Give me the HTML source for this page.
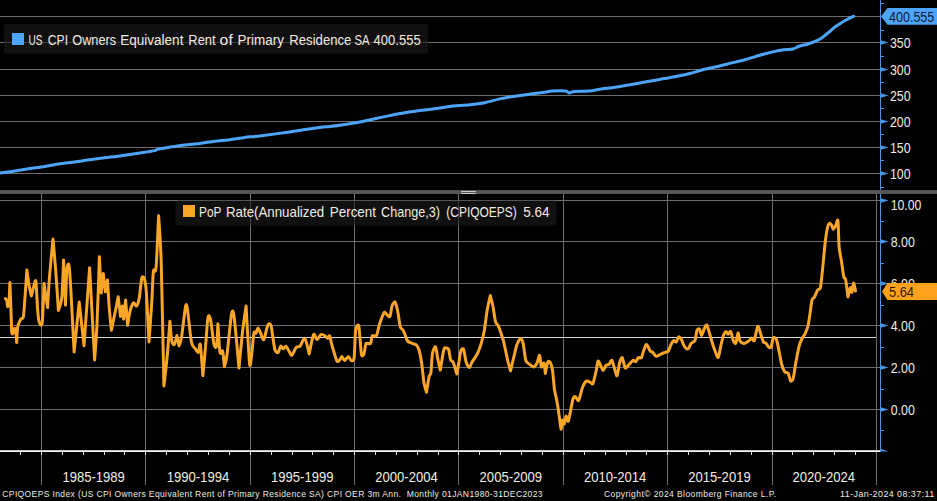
<!DOCTYPE html><html><head><meta charset="utf-8"><style>html,body{margin:0;padding:0;background:#000;width:937px;height:501px;overflow:hidden}svg{display:block}text{font-family:"Liberation Sans",sans-serif}</style></head><body>
<svg width="937" height="501" viewBox="0 0 937 501">
<rect width="937" height="501" fill="#000"/>
<line x1="0" y1="16.5" x2="880" y2="16.5" stroke="#6e6e6e" stroke-width="1"/>
<line x1="0" y1="42.5" x2="880" y2="42.5" stroke="#6e6e6e" stroke-width="1"/>
<line x1="0" y1="69.5" x2="880" y2="69.5" stroke="#6e6e6e" stroke-width="1"/>
<line x1="0" y1="95.5" x2="880" y2="95.5" stroke="#6e6e6e" stroke-width="1"/>
<line x1="0" y1="121.5" x2="880" y2="121.5" stroke="#6e6e6e" stroke-width="1"/>
<line x1="0" y1="147.5" x2="880" y2="147.5" stroke="#6e6e6e" stroke-width="1"/>
<line x1="0" y1="173.5" x2="880" y2="173.5" stroke="#6e6e6e" stroke-width="1"/>
<line x1="0" y1="200.5" x2="880" y2="200.5" stroke="#6e6e6e" stroke-width="1"/>
<line x1="0" y1="241.5" x2="880" y2="241.5" stroke="#6e6e6e" stroke-width="1"/>
<line x1="0" y1="283.5" x2="880" y2="283.5" stroke="#6e6e6e" stroke-width="1"/>
<line x1="0" y1="325.5" x2="880" y2="325.5" stroke="#6e6e6e" stroke-width="1"/>
<line x1="0" y1="367.5" x2="880" y2="367.5" stroke="#6e6e6e" stroke-width="1"/>
<line x1="0" y1="409.5" x2="880" y2="409.5" stroke="#6e6e6e" stroke-width="1"/>
<line x1="41.5" y1="194" x2="41.5" y2="485" stroke="#6e6e6e" stroke-width="1"/>
<line x1="145.5" y1="194" x2="145.5" y2="485" stroke="#6e6e6e" stroke-width="1"/>
<line x1="250.5" y1="194" x2="250.5" y2="485" stroke="#6e6e6e" stroke-width="1"/>
<line x1="354.5" y1="194" x2="354.5" y2="485" stroke="#6e6e6e" stroke-width="1"/>
<line x1="458.5" y1="194" x2="458.5" y2="485" stroke="#6e6e6e" stroke-width="1"/>
<line x1="563.5" y1="194" x2="563.5" y2="485" stroke="#6e6e6e" stroke-width="1"/>
<line x1="667.5" y1="194" x2="667.5" y2="485" stroke="#6e6e6e" stroke-width="1"/>
<line x1="772.5" y1="194" x2="772.5" y2="485" stroke="#6e6e6e" stroke-width="1"/>
<line x1="876.5" y1="194" x2="876.5" y2="485" stroke="#6e6e6e" stroke-width="1"/>
<line x1="0" y1="337.5" x2="876" y2="337.5" stroke="#d8d8d8" stroke-width="1"/>
<rect x="0" y="450" width="881" height="1" fill="#c4c4c4"/><rect x="0" y="451" width="881" height="1" fill="#f4f4f4"/>
<rect x="20" y="452" width="1" height="3" fill="#ececec"/>
<rect x="41" y="452" width="1" height="3" fill="#ececec"/>
<rect x="62" y="452" width="1" height="3" fill="#ececec"/>
<rect x="83" y="452" width="1" height="3" fill="#ececec"/>
<rect x="104" y="452" width="1" height="3" fill="#ececec"/>
<rect x="124" y="452" width="1" height="3" fill="#ececec"/>
<rect x="145" y="452" width="1" height="3" fill="#ececec"/>
<rect x="166" y="452" width="1" height="3" fill="#ececec"/>
<rect x="187" y="452" width="1" height="3" fill="#ececec"/>
<rect x="208" y="452" width="1" height="3" fill="#ececec"/>
<rect x="229" y="452" width="1" height="3" fill="#ececec"/>
<rect x="250" y="452" width="1" height="3" fill="#ececec"/>
<rect x="271" y="452" width="1" height="3" fill="#ececec"/>
<rect x="292" y="452" width="1" height="3" fill="#ececec"/>
<rect x="312" y="452" width="1" height="3" fill="#ececec"/>
<rect x="333" y="452" width="1" height="3" fill="#ececec"/>
<rect x="354" y="452" width="1" height="3" fill="#ececec"/>
<rect x="375" y="452" width="1" height="3" fill="#ececec"/>
<rect x="396" y="452" width="1" height="3" fill="#ececec"/>
<rect x="417" y="452" width="1" height="3" fill="#ececec"/>
<rect x="438" y="452" width="1" height="3" fill="#ececec"/>
<rect x="458" y="452" width="1" height="3" fill="#ececec"/>
<rect x="479" y="452" width="1" height="3" fill="#ececec"/>
<rect x="500" y="452" width="1" height="3" fill="#ececec"/>
<rect x="521" y="452" width="1" height="3" fill="#ececec"/>
<rect x="542" y="452" width="1" height="3" fill="#ececec"/>
<rect x="563" y="452" width="1" height="3" fill="#ececec"/>
<rect x="584" y="452" width="1" height="3" fill="#ececec"/>
<rect x="605" y="452" width="1" height="3" fill="#ececec"/>
<rect x="626" y="452" width="1" height="3" fill="#ececec"/>
<rect x="646" y="452" width="1" height="3" fill="#ececec"/>
<rect x="667" y="452" width="1" height="3" fill="#ececec"/>
<rect x="688" y="452" width="1" height="3" fill="#ececec"/>
<rect x="709" y="452" width="1" height="3" fill="#ececec"/>
<rect x="730" y="452" width="1" height="3" fill="#ececec"/>
<rect x="751" y="452" width="1" height="3" fill="#ececec"/>
<rect x="772" y="452" width="1" height="3" fill="#ececec"/>
<rect x="792" y="452" width="1" height="3" fill="#ececec"/>
<rect x="813" y="452" width="1" height="3" fill="#ececec"/>
<rect x="834" y="452" width="1" height="3" fill="#ececec"/>
<rect x="855" y="452" width="1" height="3" fill="#ececec"/>
<rect x="4" y="24" width="424" height="29.5" rx="2" fill="#1a1a1a" fill-opacity="0.6"/>
<rect x="12" y="33" width="12" height="12" fill="#4da5fb"/>
<text transform="translate(28.5,44.8) scale(0.8,1)" x="0" y="0" font-size="14.7" fill="#f0ebe0" textLength="17.50" lengthAdjust="spacingAndGlyphs" xml:space="preserve">US</text>
<text transform="translate(47.699999999999996,44.8) scale(0.8,1)" x="0" y="0" font-size="14.7" fill="#f0ebe0" textLength="25.50" lengthAdjust="spacingAndGlyphs" xml:space="preserve">CPI</text>
<text transform="translate(72.3,44.8) scale(0.8,1)" x="0" y="0" font-size="14.7" fill="#f0ebe0" textLength="54.75" lengthAdjust="spacingAndGlyphs" xml:space="preserve">Owners</text>
<text transform="translate(120.3,44.8) scale(0.8,1)" x="0" y="0" font-size="14.7" fill="#f0ebe0" textLength="78.88" lengthAdjust="spacingAndGlyphs" xml:space="preserve">Equivalent</text>
<text transform="translate(188.3,44.8) scale(0.8,1)" x="0" y="0" font-size="14.7" fill="#f0ebe0" textLength="34.12" lengthAdjust="spacingAndGlyphs" xml:space="preserve">Rent</text>
<text transform="translate(219.60000000000002,44.8) scale(0.8,1)" x="0" y="0" font-size="14.7" fill="#f0ebe0" textLength="16.50" lengthAdjust="spacingAndGlyphs" xml:space="preserve">of</text>
<text transform="translate(237.60000000000002,44.8) scale(0.8,1)" x="0" y="0" font-size="14.7" fill="#f0ebe0" textLength="58.13" lengthAdjust="spacingAndGlyphs" xml:space="preserve">Primary</text>
<text transform="translate(289.3,44.8) scale(0.8,1)" x="0" y="0" font-size="14.7" fill="#f0ebe0" textLength="77.62" lengthAdjust="spacingAndGlyphs" xml:space="preserve">Residence</text>
<text transform="translate(354.40000000000003,44.8) scale(0.8,1)" x="0" y="0" font-size="14.7" fill="#f0ebe0" textLength="18.87" lengthAdjust="spacingAndGlyphs" xml:space="preserve">SA</text>
<text transform="translate(373.6,44.8) scale(0.8,1)" x="0" y="0" font-size="14.7" fill="#f0ebe0" textLength="58.87" lengthAdjust="spacingAndGlyphs" xml:space="preserve">400.555</text>
<path d="M0.00 173.10 C1.88 172.82 11.26 171.46 15.00 170.90 C18.74 170.34 26.17 169.16 29.90 168.60 C33.62 168.04 41.06 167.01 44.80 166.40 C48.54 165.79 56.06 164.26 59.80 163.70 C63.54 163.14 70.96 162.40 74.70 161.90 C78.44 161.40 85.96 160.22 89.70 159.70 C93.44 159.17 100.86 158.17 104.60 157.70 C108.34 157.22 115.17 156.49 119.60 155.90 C124.02 155.31 135.59 153.66 140.00 153.00 C144.41 152.34 152.66 151.09 154.90 150.60 C157.14 150.11 156.03 149.54 157.90 149.10 C159.78 148.66 166.54 147.62 169.90 147.10 C173.26 146.57 181.06 145.36 184.80 144.90 C188.54 144.44 196.06 143.86 199.80 143.40 C203.54 142.94 210.95 141.65 214.70 141.20 C218.45 140.75 226.06 140.28 229.80 139.80 C233.54 139.33 240.86 137.88 244.60 137.40 C248.34 136.93 254.06 136.69 259.70 136.00 C265.34 135.31 282.21 132.97 289.70 131.90 C297.19 130.83 314.56 128.09 319.60 127.40 C324.64 126.71 326.84 126.78 330.00 126.40 C333.16 126.03 341.16 124.95 344.90 124.40 C348.64 123.85 356.16 122.71 359.90 122.00 C363.64 121.29 371.06 119.50 374.80 118.70 C378.54 117.90 386.06 116.34 389.80 115.60 C393.54 114.86 400.96 113.42 404.70 112.80 C408.44 112.17 415.96 111.11 419.70 110.60 C423.44 110.09 430.86 109.21 434.60 108.70 C438.34 108.19 445.18 106.99 449.60 106.50 C454.03 106.01 465.59 105.27 470.00 104.80 C474.41 104.33 481.16 103.44 484.90 102.70 C488.64 101.96 496.16 99.71 499.90 98.90 C503.64 98.09 511.06 96.80 514.80 96.20 C518.54 95.60 526.06 94.60 529.80 94.10 C533.54 93.60 541.90 92.58 544.70 92.20 C547.50 91.83 549.58 91.24 552.20 91.10 C554.83 90.96 563.55 90.88 565.70 91.10 C567.85 91.32 568.29 92.86 569.40 92.90 C570.51 92.94 572.08 91.62 574.60 91.40 C577.12 91.18 586.43 91.38 589.60 91.10 C592.77 90.82 596.84 89.69 600.00 89.20 C603.16 88.71 611.16 87.76 614.90 87.20 C618.64 86.64 626.16 85.34 629.90 84.70 C633.64 84.06 641.06 82.76 644.80 82.10 C648.54 81.44 656.06 80.08 659.80 79.40 C663.54 78.73 670.96 77.44 674.70 76.70 C678.44 75.96 685.96 74.42 689.70 73.50 C693.44 72.58 700.86 70.24 704.60 69.30 C708.34 68.36 716.43 66.74 719.60 66.00 C722.77 65.26 726.84 64.19 730.00 63.40 C733.16 62.61 741.16 60.73 744.90 59.70 C748.64 58.68 756.16 56.24 759.90 55.20 C763.64 54.16 772.00 52.06 774.80 51.40 C777.60 50.74 780.05 50.20 782.30 49.90 C784.55 49.60 790.71 49.45 792.80 49.00 C794.89 48.55 797.10 46.92 799.00 46.30 C800.90 45.67 805.99 44.61 808.00 44.00 C810.01 43.39 813.43 42.12 815.10 41.40 C816.77 40.67 820.05 39.05 821.40 38.20 C822.75 37.35 824.77 35.50 825.90 34.60 C827.02 33.70 829.27 31.95 830.40 31.00 C831.52 30.05 833.66 27.95 834.90 27.00 C836.14 26.05 838.95 24.24 840.30 23.40 C841.65 22.56 844.03 21.20 845.70 20.30 C847.38 19.40 852.70 16.71 853.70 16.20" fill="none" stroke="#4da5fb" stroke-width="3" stroke-linejoin="round" stroke-linecap="round"/>
<path d="M5.40 298.60 C5.58 298.83 6.54 299.39 6.80 300.40 C7.06 301.41 7.22 306.59 7.50 306.70 C7.78 306.81 8.70 304.32 9.00 301.30 C9.30 298.28 9.90 282.50 9.90 282.50 C9.90 282.50 10.88 307.72 11.10 313.90 C11.32 320.07 11.47 329.44 11.70 331.90 C11.92 334.36 12.56 334.05 12.90 333.60 C13.24 333.15 14.04 328.62 14.40 328.30 C14.76 327.98 15.51 329.21 15.80 331.00 C16.09 332.79 16.70 342.60 16.70 342.60 C16.70 342.60 17.21 330.09 17.60 327.40 C17.99 324.71 19.30 322.23 19.80 321.10 C20.30 319.98 21.15 318.96 21.60 318.40 C22.05 317.84 22.96 319.41 23.40 316.60 C23.84 313.79 24.66 301.74 25.10 295.90 C25.54 290.06 26.90 269.90 26.90 269.90 C26.90 269.90 28.14 280.15 28.70 283.40 C29.26 286.65 31.40 295.90 31.40 295.90 C31.40 295.90 33.54 286.89 34.10 285.10 C34.66 283.31 35.45 278.45 35.90 281.60 C36.35 284.75 37.29 305.25 37.70 310.30 C38.11 315.35 38.64 320.43 39.20 322.00 C39.76 323.57 41.60 327.72 42.20 322.90 C42.80 318.07 44.00 283.40 44.00 283.40 C44.00 283.40 45.35 292.88 45.80 295.90 C46.25 298.92 47.60 307.60 47.60 307.60 C47.60 307.60 48.73 286.56 49.40 278.00 C50.07 269.44 53.00 239.10 53.00 239.10 C53.00 239.10 55.12 262.68 55.80 271.60 C56.47 280.53 58.40 310.50 58.40 310.50 C58.40 310.50 61.15 303.82 61.80 297.50 C62.45 291.18 63.60 259.90 63.60 259.90 C63.60 259.90 65.50 305.30 65.50 305.30 C65.50 305.30 66.49 273.38 67.00 269.00 C67.51 264.62 68.71 259.93 69.60 270.30 C70.49 280.68 74.10 352.00 74.10 352.00 C74.10 352.00 79.20 302.00 79.20 302.00 C79.20 302.00 84.00 345.70 84.00 345.70 C84.00 345.70 89.60 267.70 89.60 267.70 C89.60 267.70 94.60 360.00 94.60 360.00 C94.60 360.00 96.40 337.20 97.00 324.30 C97.60 311.40 99.40 256.80 99.40 256.80 C99.40 256.80 101.20 293.00 101.20 293.00 C101.20 293.00 103.30 273.60 103.30 273.60 C103.30 273.60 105.40 291.80 105.40 291.80 C105.40 291.80 107.50 280.00 107.50 280.00 C107.50 280.00 108.81 302.41 109.30 308.70 C109.79 314.99 111.40 330.30 111.40 330.30 C111.40 330.30 114.45 315.49 115.30 311.30 C116.15 307.11 118.20 296.80 118.20 296.80 C118.20 296.80 120.50 316.50 120.50 316.50 C120.50 316.50 122.40 306.00 122.40 306.00 C122.40 306.00 123.60 319.00 123.60 319.00 C123.60 319.00 125.60 300.00 125.60 300.00 C125.60 300.00 127.60 325.30 127.60 325.30 C127.60 325.30 129.28 314.09 130.00 311.30 C130.72 308.51 132.58 303.66 133.40 303.00 C134.22 302.34 135.88 306.59 136.60 306.00 C137.32 305.41 138.55 301.80 139.20 298.30 C139.85 294.80 141.15 280.44 141.80 278.00 C142.45 275.56 143.83 276.93 144.40 278.80 C144.97 280.68 145.83 285.10 146.40 293.00 C146.97 300.90 149.00 342.00 149.00 342.00 C149.00 342.00 151.15 311.88 151.70 303.00 C152.25 294.12 152.86 275.32 153.40 271.00 C153.94 266.68 155.35 275.31 156.00 268.40 C156.65 261.49 158.60 215.70 158.60 215.70 C158.60 215.70 160.54 240.71 161.20 262.00 C161.86 283.29 163.90 386.00 163.90 386.00 C163.90 386.00 166.55 363.10 167.30 355.00 C168.05 346.90 169.90 321.20 169.90 321.20 C169.90 321.20 171.15 337.69 171.70 340.60 C172.25 343.51 173.65 345.14 174.30 344.50 C174.95 343.86 176.90 335.50 176.90 335.50 C176.90 335.50 179.00 345.80 179.00 345.80 C179.00 345.80 180.79 341.66 181.60 336.80 C182.41 331.94 184.79 310.47 185.50 306.90 C186.21 303.32 186.56 303.81 187.30 308.20 C188.04 312.59 190.43 336.98 191.40 342.00 C192.38 347.02 194.22 347.11 195.10 348.40 C195.97 349.69 197.75 352.79 198.40 352.30 C199.05 351.81 199.74 341.57 200.30 344.50 C200.86 347.43 202.90 375.70 202.90 375.70 C202.90 375.70 204.86 354.40 205.50 347.10 C206.14 339.80 207.36 320.70 208.00 317.30 C208.64 313.90 209.85 316.50 210.60 319.90 C211.35 323.30 213.25 341.26 214.00 344.50 C214.75 347.74 216.11 348.39 216.60 345.80 C217.09 343.21 217.90 323.80 217.90 323.80 C217.90 323.80 219.41 348.90 220.00 352.30 C220.59 355.70 222.05 349.21 222.60 351.00 C223.15 352.79 224.40 366.60 224.40 366.60 C224.40 366.60 226.12 361.49 227.00 355.00 C227.88 348.51 230.53 319.57 231.40 314.70 C232.28 309.82 233.05 309.34 234.00 316.00 C234.95 322.66 239.00 368.00 239.00 368.00 C239.00 368.00 241.61 339.75 242.50 332.00 C243.39 324.25 246.10 306.00 246.10 306.00 C246.10 306.00 248.85 356.50 249.50 363.00 C250.15 369.50 250.75 361.73 251.30 358.00 C251.85 354.27 253.31 336.30 253.90 333.20 C254.49 330.10 255.49 333.85 256.00 333.20 C256.51 332.55 257.43 328.00 258.00 328.00 C258.57 328.00 259.88 331.74 260.60 333.20 C261.33 334.66 262.91 340.66 263.80 339.70 C264.69 338.74 266.80 327.27 267.70 325.50 C268.60 323.73 270.12 322.59 271.00 325.50 C271.88 328.41 273.82 345.40 274.70 348.80 C275.57 352.20 277.26 353.02 278.00 352.70 C278.74 352.38 279.95 346.69 280.60 346.20 C281.25 345.71 282.55 348.80 283.20 348.80 C283.85 348.80 285.05 345.88 285.80 346.20 C286.55 346.52 288.45 350.26 289.20 351.40 C289.95 352.54 290.93 355.79 291.80 355.30 C292.68 354.81 295.16 348.64 296.20 347.50 C297.24 346.36 299.03 347.34 300.10 346.20 C301.18 345.06 303.66 337.42 304.80 338.40 C305.94 339.38 309.20 354.00 309.20 354.00 C309.20 354.00 312.62 336.29 313.60 334.50 C314.58 332.71 316.09 339.70 317.00 339.70 C317.91 339.70 319.92 334.99 320.90 334.50 C321.88 334.01 323.96 335.31 324.80 335.80 C325.64 336.29 326.99 338.40 327.60 338.40 C328.21 338.40 329.21 335.15 329.70 335.80 C330.19 336.45 330.62 340.51 331.50 343.60 C332.38 346.69 335.72 358.39 336.70 360.50 C337.68 362.61 338.65 360.99 339.30 360.50 C339.95 360.01 341.25 356.60 341.90 356.60 C342.55 356.60 343.69 360.50 344.50 360.50 C345.31 360.50 347.59 356.60 348.40 356.60 C349.21 356.60 350.29 360.32 351.00 360.50 C351.71 360.68 353.53 361.74 354.10 358.00 C354.68 354.26 355.01 334.58 355.60 330.60 C356.19 326.62 358.08 323.27 358.80 326.20 C359.52 329.12 360.75 350.52 361.40 354.00 C362.05 357.48 363.43 355.30 364.00 354.00 C364.57 352.70 365.19 344.90 366.00 343.60 C366.81 342.30 369.71 344.58 370.50 343.60 C371.29 342.62 371.56 336.78 372.30 335.80 C373.04 334.82 375.50 337.25 376.40 335.80 C377.30 334.35 378.52 327.11 379.50 324.20 C380.48 321.29 383.22 313.64 384.20 312.50 C385.18 311.36 386.57 314.61 387.30 315.10 C388.03 315.59 389.41 317.54 390.00 316.40 C390.59 315.26 391.36 307.80 392.00 306.00 C392.64 304.20 394.39 301.35 395.10 302.00 C395.81 302.65 397.05 308.10 397.70 311.20 C398.35 314.30 399.59 324.38 400.30 326.80 C401.01 329.23 402.49 328.83 403.40 330.60 C404.31 332.38 406.43 339.38 407.60 341.00 C408.78 342.62 411.70 343.10 412.80 343.60 C413.90 344.10 415.62 344.20 416.40 345.00 C417.17 345.80 418.35 347.75 419.00 350.00 C419.65 352.25 420.98 358.88 421.60 363.00 C422.23 367.12 423.39 379.35 424.00 383.00 C424.61 386.65 426.50 392.20 426.50 392.20 C426.50 392.20 428.55 379.04 429.10 376.60 C429.65 374.16 430.47 375.62 430.90 372.70 C431.32 369.77 431.91 356.44 432.50 353.20 C433.09 349.96 434.95 346.15 435.60 346.80 C436.25 347.45 437.11 355.49 437.70 358.40 C438.29 361.31 440.30 370.10 440.30 370.10 C440.30 370.10 443.19 352.16 443.90 349.40 C444.61 346.64 445.41 348.00 446.00 348.00 C446.59 348.00 448.03 347.94 448.60 349.40 C449.18 350.86 450.03 358.09 450.60 359.70 C451.18 361.31 452.41 360.51 453.20 362.30 C453.99 364.09 456.90 374.00 456.90 374.00 C456.90 374.00 458.39 365.23 458.90 362.30 C459.41 359.38 460.41 352.21 461.00 350.60 C461.59 348.99 462.95 347.94 463.60 349.40 C464.25 350.86 465.48 360.04 466.20 362.30 C466.92 364.56 468.69 367.50 469.40 367.50 C470.11 367.50 471.26 363.44 471.90 362.30 C472.54 361.16 473.77 359.54 474.50 358.40 C475.23 357.26 476.89 354.97 477.70 353.20 C478.51 351.43 480.16 347.10 481.00 344.20 C481.84 341.30 483.65 334.12 484.40 330.00 C485.15 325.88 486.26 315.50 487.00 311.20 C487.74 306.90 490.30 295.60 490.30 295.60 C490.30 295.60 492.25 302.75 492.90 306.00 C493.55 309.25 494.85 319.16 495.50 321.60 C496.15 324.04 497.46 324.20 498.10 325.50 C498.74 326.80 499.89 329.90 500.60 332.00 C501.31 334.10 502.91 338.74 503.80 342.30 C504.69 345.86 506.86 356.93 507.70 360.50 C508.54 364.07 510.50 370.90 510.50 370.90 C510.50 370.90 512.81 361.24 513.60 358.00 C514.39 354.76 515.92 347.45 516.80 345.00 C517.67 342.55 519.80 338.57 520.60 338.40 C521.40 338.22 522.55 340.84 523.20 343.60 C523.85 346.36 524.99 357.90 525.80 360.50 C526.61 363.10 528.73 363.59 529.70 364.40 C530.68 365.21 532.69 367.18 533.60 367.00 C534.51 366.82 536.25 364.46 537.00 363.00 C537.75 361.54 539.05 354.80 539.60 355.30 C540.15 355.80 540.85 366.04 541.40 367.00 C541.95 367.96 543.51 362.19 544.00 363.00 C544.49 363.81 545.30 373.50 545.30 373.50 C545.30 373.50 547.25 363.11 547.90 361.80 C548.55 360.49 549.91 361.86 550.50 363.00 C551.09 364.14 552.11 367.65 552.60 370.90 C553.09 374.15 553.91 385.46 554.40 389.00 C554.89 392.54 556.01 396.62 556.50 399.20 C556.99 401.77 557.88 406.84 558.30 409.60 C558.72 412.36 559.54 418.86 559.90 421.30 C560.26 423.74 560.88 429.26 561.20 429.10 C561.53 428.94 562.11 420.65 562.50 420.00 C562.89 419.35 563.85 424.39 564.30 423.90 C564.75 423.41 565.61 416.43 566.10 416.10 C566.59 415.78 567.68 421.79 568.20 421.30 C568.73 420.81 569.71 414.96 570.30 412.20 C570.89 409.44 572.25 401.15 572.90 399.20 C573.55 397.25 574.79 396.44 575.50 396.60 C576.21 396.76 577.73 401.64 578.60 400.50 C579.48 399.36 581.52 389.94 582.50 387.50 C583.48 385.06 585.42 381.65 586.40 381.00 C587.38 380.35 589.49 381.98 590.30 382.30 C591.11 382.62 592.16 385.06 592.90 383.60 C593.64 382.14 595.55 373.43 596.20 370.60 C596.85 367.78 597.55 361.64 598.10 361.00 C598.65 360.36 599.96 364.30 600.60 365.50 C601.24 366.70 602.55 370.60 603.20 370.60 C603.85 370.60 605.05 366.30 605.80 365.50 C606.55 364.70 608.45 364.85 609.20 364.20 C609.95 363.55 611.15 359.82 611.80 360.30 C612.45 360.78 613.75 366.06 614.40 368.00 C615.05 369.94 616.35 376.44 617.00 375.80 C617.65 375.16 618.95 365.16 619.60 362.90 C620.25 360.64 621.49 357.06 622.20 357.70 C622.91 358.34 624.42 367.19 625.30 368.00 C626.17 368.81 628.23 365.16 629.20 364.20 C630.18 363.24 632.29 360.62 633.10 360.30 C633.91 359.98 635.05 361.93 635.70 361.60 C636.35 361.28 637.59 358.19 638.30 357.70 C639.01 357.21 640.75 358.51 641.40 357.70 C642.05 356.89 642.91 352.82 643.50 351.20 C644.09 349.57 645.59 345.38 646.10 344.70 C646.61 344.02 647.09 345.01 647.60 345.80 C648.11 346.59 649.55 350.19 650.20 351.00 C650.85 351.81 652.09 351.65 652.80 352.30 C653.51 352.95 655.09 355.86 655.90 356.20 C656.71 356.54 658.55 355.32 659.30 355.00 C660.05 354.68 661.15 353.94 661.90 353.60 C662.65 353.26 664.49 352.62 665.30 352.30 C666.11 351.98 667.69 351.98 668.40 351.00 C669.11 350.02 670.35 345.80 671.00 344.50 C671.65 343.20 672.95 340.91 673.60 340.60 C674.25 340.29 675.55 342.48 676.20 342.00 C676.85 341.52 678.15 337.12 678.80 336.80 C679.45 336.48 680.82 338.44 681.40 339.40 C681.98 340.36 682.82 343.38 683.40 344.50 C683.98 345.62 685.35 347.91 686.00 348.40 C686.65 348.89 687.95 349.05 688.60 348.40 C689.25 347.75 690.41 344.17 691.20 343.20 C691.99 342.23 694.17 342.21 694.90 340.60 C695.62 338.99 696.42 331.75 697.00 330.30 C697.58 328.85 698.92 328.35 699.50 329.00 C700.08 329.65 701.01 335.50 701.60 335.50 C702.19 335.50 703.55 330.31 704.20 329.00 C704.85 327.69 706.15 324.51 706.80 325.00 C707.45 325.49 708.75 330.77 709.40 332.90 C710.05 335.02 711.29 339.74 712.00 342.00 C712.71 344.26 714.33 349.06 715.10 351.00 C715.88 352.94 717.49 358.15 718.20 357.50 C718.91 356.85 720.15 348.55 720.80 345.80 C721.45 343.05 722.75 337.27 723.40 335.50 C724.05 333.73 725.41 331.76 726.00 331.60 C726.59 331.44 727.51 334.20 728.10 334.20 C728.69 334.20 730.05 330.80 730.70 331.60 C731.35 332.40 732.65 339.15 733.30 340.60 C733.95 342.05 735.31 344.16 735.90 343.20 C736.49 342.24 737.51 333.22 738.00 332.90 C738.49 332.57 739.22 339.31 739.80 340.60 C740.38 341.89 741.92 342.88 742.60 343.20 C743.28 343.52 744.39 343.52 745.20 343.20 C746.01 342.88 748.29 341.25 749.10 340.60 C749.91 339.95 751.05 338.00 751.70 338.00 C752.35 338.00 753.55 342.05 754.30 340.60 C755.05 339.15 756.89 327.20 757.70 326.40 C758.51 325.60 760.09 332.25 760.80 334.20 C761.51 336.15 762.75 340.88 763.40 342.00 C764.05 343.12 765.35 342.56 766.00 343.20 C766.65 343.84 767.95 346.61 768.60 347.10 C769.25 347.59 770.62 348.24 771.20 347.10 C771.78 345.96 772.55 338.96 773.20 338.00 C773.85 337.04 775.67 337.77 776.40 339.40 C777.12 341.02 778.35 347.93 779.00 351.00 C779.65 354.07 780.89 361.40 781.60 364.00 C782.31 366.60 783.89 370.66 784.70 371.80 C785.51 372.94 787.36 371.96 788.10 373.10 C788.84 374.24 789.96 380.25 790.60 380.90 C791.24 381.55 792.55 380.57 793.20 378.30 C793.85 376.03 795.05 366.76 795.80 362.70 C796.55 358.64 798.39 348.89 799.20 345.80 C800.01 342.71 801.59 339.45 802.30 338.00 C803.01 336.55 804.19 335.70 804.90 334.20 C805.61 332.70 807.35 328.65 808.00 326.00 C808.65 323.35 809.60 316.25 810.10 313.00 C810.60 309.75 811.45 302.00 812.00 300.00 C812.55 298.00 813.80 298.25 814.50 297.00 C815.20 295.75 816.86 291.16 817.60 290.00 C818.34 288.84 819.76 290.47 820.40 287.70 C821.04 284.93 822.11 273.36 822.70 267.80 C823.29 262.24 824.51 248.17 825.10 243.20 C825.69 238.22 826.88 230.47 827.40 228.00 C827.92 225.53 828.77 223.75 829.30 223.40 C829.82 223.05 831.11 224.47 831.60 225.20 C832.09 225.92 832.70 229.14 833.20 229.20 C833.70 229.26 835.01 226.77 835.60 225.70 C836.19 224.62 837.46 217.96 837.90 220.60 C838.34 223.24 838.66 241.78 839.10 246.80 C839.54 251.83 840.81 257.01 841.40 260.80 C841.99 264.59 843.27 274.76 843.80 277.10 C844.32 279.44 845.08 277.01 845.60 279.50 C846.12 281.99 848.00 297.00 848.00 297.00 C848.00 297.00 849.81 288.29 850.30 287.70 C850.79 287.11 851.49 292.89 851.90 292.30 C852.31 291.71 853.15 283.16 853.60 283.00 C854.05 282.84 855.26 290.00 855.50 291.00" fill="none" stroke="#f9a528" stroke-width="3" stroke-linejoin="round" stroke-linecap="round"/>
<rect x="175.5" y="200.5" width="381" height="25" rx="2" fill="#1a1a1a" fill-opacity="0.6"/>
<rect x="183" y="205" width="12" height="12" fill="#f9a528"/>
<text transform="translate(199.10000000000002,216.9) scale(0.8,1)" x="0" y="0" font-size="14.4" fill="#f0ebe0" textLength="28.00" lengthAdjust="spacingAndGlyphs" xml:space="preserve">PoP</text>
<text transform="translate(226.0,216.9) scale(0.8,1)" x="0" y="0" font-size="14.4" fill="#f0ebe0" textLength="122.75" lengthAdjust="spacingAndGlyphs" xml:space="preserve">Rate(Annualized</text>
<text transform="translate(329.8,216.9) scale(0.8,1)" x="0" y="0" font-size="14.4" fill="#f0ebe0" textLength="57.75" lengthAdjust="spacingAndGlyphs" xml:space="preserve">Percent</text>
<text transform="translate(381.1,216.9) scale(0.8,1)" x="0" y="0" font-size="14.4" fill="#f0ebe0" textLength="73.50" lengthAdjust="spacingAndGlyphs" xml:space="preserve">Change,3)</text>
<text transform="translate(446.3,216.9) scale(0.8,1)" x="0" y="0" font-size="14.4" fill="#f0ebe0" textLength="88.00" lengthAdjust="spacingAndGlyphs" xml:space="preserve">(CPIQOEPS)</text>
<text transform="translate(523.1999999999999,216.9) scale(0.8,1)" x="0" y="0" font-size="14.4" fill="#f0ebe0" textLength="32.75" lengthAdjust="spacingAndGlyphs" xml:space="preserve">5.64</text>
<rect x="0" y="190" width="937" height="4" fill="#555555"/>
<rect x="461" y="191" width="15" height="1" fill="#c8c8c8"/><rect x="461" y="193" width="15" height="1" fill="#c8c8c8"/>
<rect x="880" y="0" width="1" height="190" fill="#4793e6"/>
<rect x="880" y="194" width="1" height="258" fill="#4793e6"/>
<path d="M880 39.9 L888.5 42.5 L880 45.1 Z" fill="#4793e6"/>
<text x="890" y="47.6" font-size="13.9" fill="#f0ebe0" textLength="20.6" lengthAdjust="spacingAndGlyphs">350</text>
<path d="M880 66.9 L888.5 69.5 L880 72.1 Z" fill="#4793e6"/>
<text x="890" y="74.6" font-size="13.9" fill="#f0ebe0" textLength="20.6" lengthAdjust="spacingAndGlyphs">300</text>
<path d="M880 92.9 L888.5 95.5 L880 98.1 Z" fill="#4793e6"/>
<text x="890" y="100.6" font-size="13.9" fill="#f0ebe0" textLength="20.6" lengthAdjust="spacingAndGlyphs">250</text>
<path d="M880 118.9 L888.5 121.5 L880 124.1 Z" fill="#4793e6"/>
<text x="890" y="126.6" font-size="13.9" fill="#f0ebe0" textLength="20.6" lengthAdjust="spacingAndGlyphs">200</text>
<path d="M880 144.9 L888.5 147.5 L880 150.1 Z" fill="#4793e6"/>
<text x="890" y="152.6" font-size="13.9" fill="#f0ebe0" textLength="20.6" lengthAdjust="spacingAndGlyphs">150</text>
<path d="M880 170.9 L888.5 173.5 L880 176.1 Z" fill="#4793e6"/>
<text x="890" y="178.6" font-size="13.9" fill="#f0ebe0" textLength="20.6" lengthAdjust="spacingAndGlyphs">100</text>
<line x1="880" y1="3.5" x2="884" y2="3.5" stroke="#4793e6" stroke-width="1"/>
<line x1="880" y1="30.5" x2="884" y2="30.5" stroke="#4793e6" stroke-width="1"/>
<line x1="880" y1="56.5" x2="884" y2="56.5" stroke="#4793e6" stroke-width="1"/>
<line x1="880" y1="82.5" x2="884" y2="82.5" stroke="#4793e6" stroke-width="1"/>
<line x1="880" y1="108.5" x2="884" y2="108.5" stroke="#4793e6" stroke-width="1"/>
<line x1="880" y1="134.5" x2="884" y2="134.5" stroke="#4793e6" stroke-width="1"/>
<line x1="880" y1="160.5" x2="884" y2="160.5" stroke="#4793e6" stroke-width="1"/>
<line x1="880" y1="187.5" x2="884" y2="187.5" stroke="#4793e6" stroke-width="1"/>
<path d="M881 16.5 L887.5 8 L937 8 L937 24.8 L887.5 24.8 Z" fill="#4da5fb"/>
<text x="889" y="21.6" font-size="13.9" fill="#0a1a3a" textLength="45.3" lengthAdjust="spacingAndGlyphs">400.555</text>
<path d="M880 197.9 L888.5 200.5 L880 203.1 Z" fill="#4793e6"/>
<path d="M880 238.9 L888.5 241.5 L880 244.1 Z" fill="#4793e6"/>
<path d="M880 280.9 L888.5 283.5 L880 286.1 Z" fill="#4793e6"/>
<path d="M880 322.9 L888.5 325.5 L880 328.1 Z" fill="#4793e6"/>
<path d="M880 364.9 L888.5 367.5 L880 370.1 Z" fill="#4793e6"/>
<path d="M880 406.9 L888.5 409.5 L880 412.1 Z" fill="#4793e6"/>
<text x="890.7" y="209.9" font-size="13.9" fill="#f0ebe0" textLength="30.7" lengthAdjust="spacingAndGlyphs">10.00</text>
<text x="890.7" y="246.7" font-size="13.9" fill="#f0ebe0" textLength="24.1" lengthAdjust="spacingAndGlyphs">8.00</text>
<text x="890.7" y="288.7" font-size="13.9" fill="#f0ebe0" textLength="24.1" lengthAdjust="spacingAndGlyphs">6.00</text>
<text x="890.7" y="330.7" font-size="13.9" fill="#f0ebe0" textLength="24.1" lengthAdjust="spacingAndGlyphs">4.00</text>
<text x="890.7" y="372.7" font-size="13.9" fill="#f0ebe0" textLength="24.1" lengthAdjust="spacingAndGlyphs">2.00</text>
<text x="890.7" y="414.7" font-size="13.9" fill="#f0ebe0" textLength="24.1" lengthAdjust="spacingAndGlyphs">0.00</text>
<line x1="880" y1="221.5" x2="884" y2="221.5" stroke="#4793e6" stroke-width="1"/>
<line x1="880" y1="263.5" x2="884" y2="263.5" stroke="#4793e6" stroke-width="1"/>
<line x1="880" y1="305.5" x2="884" y2="305.5" stroke="#4793e6" stroke-width="1"/>
<line x1="880" y1="347.5" x2="884" y2="347.5" stroke="#4793e6" stroke-width="1"/>
<line x1="880" y1="389.5" x2="884" y2="389.5" stroke="#4793e6" stroke-width="1"/>
<line x1="880" y1="430.5" x2="884" y2="430.5" stroke="#4793e6" stroke-width="1"/>
<path d="M880 448.5 L888.5 451.4 L880 451.4 Z" fill="#4793e6"/>
<path d="M882 291.4 L887.5 283 L937 283 L937 300 L887.5 300 Z" fill="#fea21d"/>
<text x="889" y="296.6" font-size="13.9" fill="#2a1800" textLength="25" lengthAdjust="spacingAndGlyphs">5.64</text>
<text x="62.4" y="482.1" font-size="14.4" fill="#f0ebe0" textLength="62.5" lengthAdjust="spacingAndGlyphs">1985-1989</text>
<text x="166.7" y="482.1" font-size="14.4" fill="#f0ebe0" textLength="62.5" lengthAdjust="spacingAndGlyphs">1990-1994</text>
<text x="271.0" y="482.1" font-size="14.4" fill="#f0ebe0" textLength="62.5" lengthAdjust="spacingAndGlyphs">1995-1999</text>
<text x="375.3" y="482.1" font-size="14.4" fill="#f0ebe0" textLength="62.5" lengthAdjust="spacingAndGlyphs">2000-2004</text>
<text x="479.6" y="482.1" font-size="14.4" fill="#f0ebe0" textLength="62.5" lengthAdjust="spacingAndGlyphs">2005-2009</text>
<text x="583.9" y="482.1" font-size="14.4" fill="#f0ebe0" textLength="62.5" lengthAdjust="spacingAndGlyphs">2010-2014</text>
<text x="688.2" y="482.1" font-size="14.4" fill="#f0ebe0" textLength="62.5" lengthAdjust="spacingAndGlyphs">2015-2019</text>
<text x="792.5" y="482.1" font-size="14.4" fill="#f0ebe0" textLength="62.5" lengthAdjust="spacingAndGlyphs">2020-2024</text>
<text transform="translate(2.3,496.8) scale(0.86,1)" x="0" y="0" font-size="9.9" fill="#f0ebe0" textLength="628.14" lengthAdjust="spacing" xml:space="preserve">CPIQOEPS Index (US CPI Owners Equivalent Rent of Primary Residence SA) CPI OER 3m Ann.  Monthly 01JAN1980-31DEC2023</text>
<text transform="translate(604,496.8) scale(0.86,1)" x="0" y="0" font-size="9.9" fill="#f0ebe0" textLength="200.00" lengthAdjust="spacing" xml:space="preserve">Copyright© 2024 Bloomberg Finance L.P.</text>
<text transform="translate(840,496.8) scale(0.9,1)" x="0" y="0" font-size="9.9" fill="#f0ebe0" textLength="104.67" lengthAdjust="spacing" xml:space="preserve">11-Jan-2024 08:37:11</text>
</svg></body></html>
